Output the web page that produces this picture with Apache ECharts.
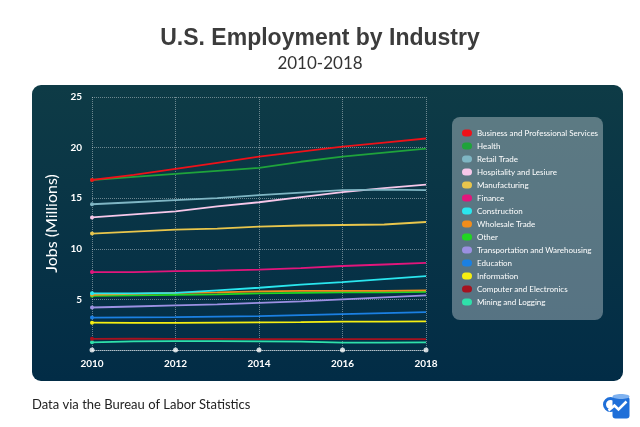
<!DOCTYPE html>
<html lang="en">
<head>
    <meta charset="utf-8">
    <script src="https://cdn.jsdelivr.net/npm/echarts@6/dist/echarts.min.js"></script>
    <style>
        html, body { margin: 0; padding: 0; background: #fff; }
    </style>
</head>
<body>
<div id="main" style="width: 640px;height:427px;"></div>
<script type="text/javascript">
    // years on the x axis
    var years = ['2010', '2011', '2012', '2013', '2014', '2015', '2016', '2017', '2018'];
    var yTicks = [5, 10, 15, 20, 25];

    // jobs in millions, one array per industry
    var business = [16.8, 17.3, 17.9, 18.5, 19.1, 19.6, 20.1, 20.5, 20.9];
    var health = [16.8, 17.1, 17.4, 17.7, 18.0, 18.6, 19.1, 19.5, 19.9];
    var retail = [14.4, 14.6, 14.8, 15.0, 15.3, 15.55, 15.8, 15.85, 15.8];
    var hospitality = [13.1, 13.4, 13.7, 14.2, 14.6, 15.1, 15.6, 16.0, 16.35];
    var manufacturing = [11.5, 11.7, 11.9, 12.0, 12.2, 12.3, 12.35, 12.4, 12.65];
    var finance = [7.7, 7.7, 7.8, 7.85, 7.95, 8.1, 8.3, 8.45, 8.6];
    var construction = [5.6, 5.6, 5.65, 5.9, 6.15, 6.45, 6.7, 7.0, 7.3];
    var wholesale = [5.45, 5.55, 5.65, 5.7, 5.8, 5.85, 5.85, 5.85, 5.9];
    var other = [5.35, 5.4, 5.45, 5.5, 5.6, 5.65, 5.7, 5.7, 5.75];
    var transport = [4.2, 4.3, 4.4, 4.5, 4.65, 4.8, 5.0, 5.2, 5.4];
    var education = [3.2, 3.22, 3.25, 3.3, 3.35, 3.45, 3.55, 3.65, 3.75];
    var information = [2.7, 2.68, 2.68, 2.7, 2.73, 2.75, 2.8, 2.8, 2.83];
    var computer = [1.1, 1.12, 1.1, 1.1, 1.08, 1.08, 1.08, 1.08, 1.08];
    var mining = [0.76, 0.85, 0.88, 0.87, 0.86, 0.82, 0.72, 0.73, 0.75];

    var names = ['Business and Professional Services', 'Health', 'Retail Trade', 'Hospitality and Lesiure',
        'Manufacturing', 'Finance', 'Construction', 'Wholesale Trade', 'Other',
        'Transportation and Warehousing', 'Education', 'Information', 'Computer and Electronics', 'Mining and Logging'];
    var colors = ['#ee1119', '#1fa33b', '#7fb6c4', '#f7c8ea', '#e9c64c', '#e2167c', '#2ae6ee',
        '#f28d1c', '#22d622', '#9b90e2', '#1b80e2', '#f6ef12', '#a5121f', '#2fe0aa'];
    var values = [business, health, retail, hospitality, manufacturing, finance, construction,
        wholesale, other, transport, education, information, computer, mining];

    // axis dots sit on the even years
    var dotYears = ['2010', '2012', '2014', '2016', '2018'];

    var chart = echarts.init(document.getElementById('main'));

    var series = values.map(function (arr, i) {
        return {
            name: names[i],
            type: 'line',
            data: arr.map(function (v, j) {
                // only the first point gets a marker
                return j === 0 ? {value: v, symbol: 'circle', symbolSize: 4} : {value: v, symbol: 'none'};
            }),
            showSymbol: true,
            lineStyle: {width: 1.8, color: colors[i]},
            itemStyle: {color: colors[i]},
            z: 20 - i
        };
    });
    series.push({
        name: 'dots',
        type: 'scatter',
        data: dotYears.map(function (y) { return [y, 0]; }),
        symbolSize: 5,
        itemStyle: {color: '#ffffff'},
        silent: true,
        z: 30
    });

    var option = {
        animation: false,
        color: colors,
        title: [{
            text: 'U.S. Employment by Industry',
            left: 'center',
            top: 22,
            textStyle: {fontFamily: 'Liberation Sans', fontWeight: 'bold', fontSize: 23, color: '#3c3c3c'}
        }, {
            text: '2010-2018',
            left: 'center',
            top: 50,
            textStyle: {fontFamily: 'Lato', fontWeight: 'normal', fontSize: 17, color: '#333'}
        }],
        graphic: [{
            type: 'rect',
            shape: {x: 32, y: 85, width: 591, height: 296, r: 9},
            style: {
                fill: new echarts.graphic.LinearGradient(0, 0, 0, 1, [
                    {offset: 0, color: '#0e3b46'},
                    {offset: 1, color: '#022c46'}
                ])
            },
            z: -10
        }, {
            type: 'rect',
            shape: {x: 452, y: 117, width: 151, height: 203, r: 8},
            style: {fill: 'rgba(255,255,255,0.33)'},
            z: -5
        }, {
            type: 'text',
            left: 32,
            top: 398,
            style: {text: 'Data via the Bureau of Labor Statistics', fontFamily: 'Lato', fontSize: 13, fill: '#222'}
        }, {
            type: 'group',
            left: 602,
            top: 394,
            children: [{
                type: 'circle',
                shape: {cx: 5, cy: 11, r: 6},
                style: {fill: 'none', stroke: '#1f6fd8', lineWidth: 3}
            }, {
                type: 'rect',
                shape: {x: 7, y: 3, width: 17, height: 22, r: 3},
                style: {fill: '#1f6fd8'}
            }, {
                type: 'ellipse',
                shape: {cx: 15.5, cy: 3, rx: 8.5, ry: 2.5},
                style: {fill: '#7fb2f0'}
            }, {
                type: 'polyline',
                shape: {points: [[3, 17], [9, 12], [13, 16], [21, 8]]},
                style: {stroke: '#fff', lineWidth: 2.5, fill: 'none'}
            }]
        }],
        legend: {
            orient: 'vertical',
            left: 457,
            top: 123,
            data: names,
            itemWidth: 10,
            itemHeight: 7,
            itemGap: 3,
            icon: 'path://M3.5,0H6.5A3.5,3.5,0,0,1,6.5,7H3.5A3.5,3.5,0,0,1,3.5,0Z',
            textStyle: {color: '#ffffff', fontSize: 8, lineHeight: 10, fontFamily: 'Lato'}
        },
        grid: {left: 92, top: 97, width: 334, height: 253},
        xAxis: {
            type: 'category',
            data: years,
            boundaryGap: false,
            axisLine: {lineStyle: {color: 'rgba(255,255,255,0.5)', type: 'dotted'}},
            axisTick: {show: false},
            axisLabel: {
                interval: 1, color: '#fff', fontWeight: 'bold', fontSize: 10, fontFamily: 'Lato', margin: 9
            },
            splitLine: {show: true, interval: 1, lineStyle: {color: 'rgba(255,255,255,0.4)', type: 'dotted'}}
        },
        yAxis: {
            type: 'value',
            min: 0,
            max: 25,
            interval: 5,
            name: 'Jobs (Millions)',
            nameLocation: 'middle',
            nameGap: 32,
            nameTextStyle: {color: '#fff', fontSize: 16, fontFamily: 'Lato'},
            axisLine: {show: false},
            axisTick: {show: false},
            axisLabel: {
                color: '#fff', fontWeight: 'bold', fontSize: 10, fontFamily: 'Lato', margin: 10,
                formatter: function (v) { return yTicks.indexOf(v) >= 0 ? String(v) : ''; }
            },
            splitLine: {lineStyle: {color: 'rgba(255,255,255,0.4)', type: 'dotted'}}
        },
        series: series
    };
    chart.setOption(option);
</script>
</body>
</html>
